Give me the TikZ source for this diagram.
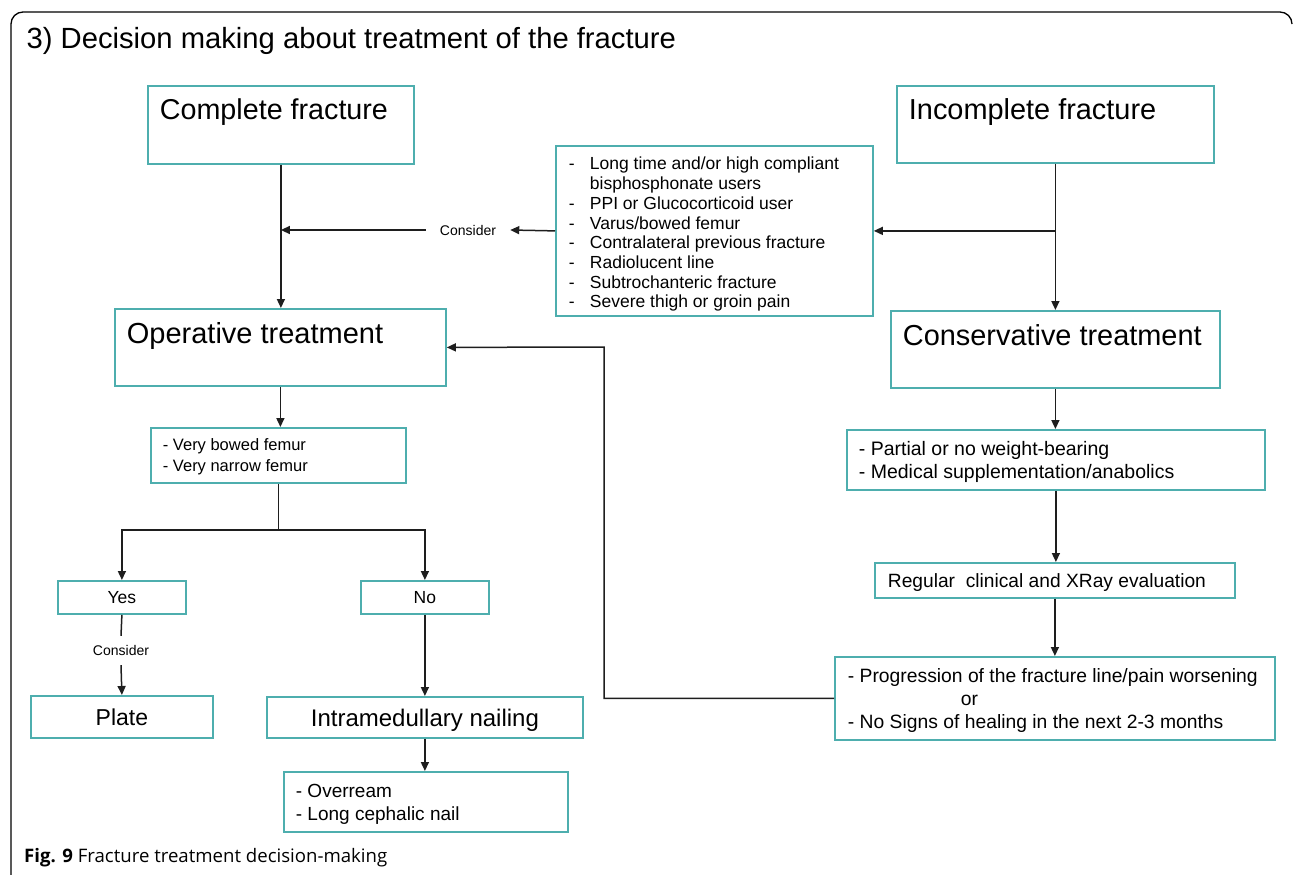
\documentclass[tikz,border=0pt]{standalone}
\usepackage{fontspec}
\setmainfont{Liberation Sans}
\newfontfamily\capfont{Open Sans}
\usetikzlibrary{arrows.meta}
\definecolor{boxc}{RGB}{78,174,174}
\definecolor{lnc}{RGB}{30,30,30}
\newcommand{\btl}[5]{\parbox[c][#2pt][t]{#1pt}{\raggedright\leftskip=#4pt\relax\rule{0pt}{#3pt}#5}}
\newcommand{\btc}[4]{\parbox[c][#2pt][t]{#1pt}{\centering\rule{0pt}{#3pt}#4}}
\newcommand{\li}{\makebox[21pt][l]{-}}
\newcommand{\lc}{\hspace*{21pt}}
\tikzset{
  bx/.style={draw=boxc, line width=1.8pt, inner sep=0pt, anchor=north west},
  arr/.style={draw=lnc, line width=1.5pt, -{Triangle[length=9pt,width=8pt]}},
  ln/.style={draw=lnc, line width=1.5pt},
  lbl/.style={font=\fontsize{14}{17}\selectfont},
}
\begin{document}
\begin{tikzpicture}[x=1pt,y=-1pt]
\useasboundingbox (0,0) rectangle (1293,875);
% frame
\draw[line width=1.3pt] (11,875) -- (11,24) arc[start angle=180,end angle=270,radius=12] -- (1280,12) arc[start angle=270,end angle=360,radius=12];
% title
\node[anchor=base west, inner sep=0pt, font=\fontsize{29.2}{34}\selectfont] (title) at (26.5,48.5) {3) Decision making about treatment of the fracture};
% boxes
\node[bx, font=\fontsize{28.7}{34}\selectfont] (cf) at (147,85) {\btl{266}{78}{34}{12}{Complete fracture}};
\node[bx, font=\fontsize{28.9}{34}\selectfont] (inc) at (896,85) {\btl{317}{77}{34}{12}{Incomplete fracture}};
\node[bx, font=\fontsize{17.5}{19.7}\selectfont] (list) at (555,145) {\btl{317}{170}{24}{13}{\li Long time and/or high compliant\\\lc bisphosphonate users\\\li PPI or Glucocorticoid user\\\li Varus/bowed femur\\\li Contralateral previous fracture\\\li Radiolucent line\\\li Subtrochanteric fracture\\\li Severe thigh or groin pain}};
\node[bx, font=\fontsize{29}{33}\selectfont] (op) at (114,308) {\btl{331}{77}{34.5}{12}{Operative treatment}};
\node[bx, font=\fontsize{28.9}{33}\selectfont] (cons) at (890,310) {\btl{329}{77}{34.5}{12}{Conservative treatment}};
\node[bx, font=\fontsize{16.5}{21}\selectfont] (bowed) at (150,427) {\btl{255}{55}{23}{12}{- Very bowed femur\\- Very narrow femur}};
\node[bx, font=\fontsize{17.5}{21}\selectfont] (yes) at (57,580) {\btc{128}{33}{22.7}{Yes}};
\node[bx, font=\fontsize{17.5}{21}\selectfont] (no) at (360,580) {\btc{128}{33}{22.7}{No}};
\node[bx, font=\fontsize{23}{27}\selectfont] (plate) at (30,695) {\btc{182}{42}{30}{Plate}};
\node[bx, font=\fontsize{24}{28}\selectfont] (im) at (266,696) {\btc{316}{41}{29.7}{Intramedullary nailing}};
\node[bx, font=\fontsize{19}{22.7}\selectfont] (over) at (283,771) {\btl{284}{60}{26}{12}{- Overream\\- Long cephalic nail}};
\node[bx, font=\fontsize{19.5}{23}\selectfont] (part) at (846,429) {\btl{418}{60}{26}{12}{- Partial or no weight-bearing\\- Medical supplementation/anabolics}};
\node[bx, font=\fontsize{19.2}{23}\selectfont] (reg) at (874,562) {\btl{360}{35}{25}{13}{Regular\ \ clinical and XRay evaluation}};
\node[bx, font=\fontsize{19.3}{22.7}\selectfont] (prog) at (834,656) {\btl{440}{83}{26}{13}{- Progression of the fracture line/pain worsening\\\hspace*{113pt}or\\- No Signs of healing in the next 2-3 months}};
% labels
\node[lbl, inner xsep=14pt, inner ysep=2pt] (c1) at (468,230) {Consider};
\node[lbl, inner sep=0pt, minimum height=29pt] (c2) at (121,650.5) {Consider};
\coordinate (br) at (280,530);
\coordinate (fb) at (604,347);
% connectors
\draw[arr] (cf.south) -- (cf.south |- op.north);
\draw[arr] (list.west) -- (c1.east);
\draw[arr] (c1.west) -- (cf.south |- c1.west);
\draw[arr] (inc.south) -- (inc.south |- cons.north);
\draw[arr] (inc.south |- list.east) -- (list.east);
\draw[arr] (op.south) -- (op.south |- bowed.north);
\draw[ln] (bowed.south) -- (bowed.south |- br);
\draw[arr] (bowed.south |- br) -| (yes.north);
\draw[arr] (bowed.south |- br) -| (no.north);
\draw[ln] (yes.south) -- (c2.north);
\draw[arr] (c2.south) -- (plate.north);
\draw[arr] (no.south) -- (im.north);
\draw[arr] (im.south) -- (im.south |- over.north);
\draw[arr] (cons.south) -- (cons.south |- part.north);
\draw[arr] (part.south) -- (part.south |- reg.north);
\draw[arr] (reg.south) -- (reg.south |- prog.north);
\draw[arr] (prog.west) -| (fb) -- (op.east);
% caption
\node[anchor=base west, inner sep=0pt, font=\capfont\fontsize{18.6}{22}\selectfont] (cap) at (24,862) {\textbf{Fig. 9} Fracture treatment decision-making};
\end{tikzpicture}
\end{document}
